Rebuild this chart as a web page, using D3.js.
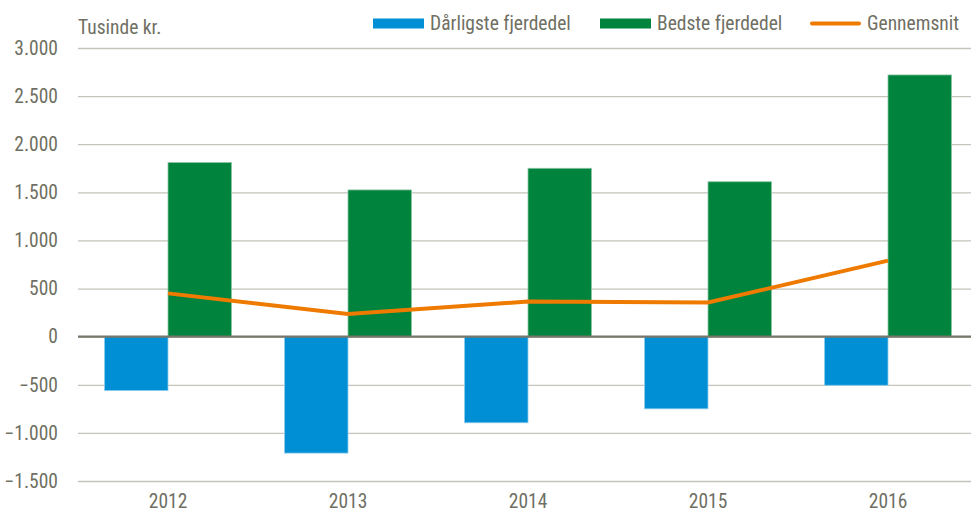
<!DOCTYPE html>
<html lang="da">
<head>
<meta charset="UTF-8">
<title>Fjerdedele</title>
<script src="https://cdn.jsdelivr.net/npm/d3@7"></script>
<style>
    body { margin: 0; background: #fff; }
    text { font-family: "Liberation Sans Narrow", "Arial Narrow", "Roboto Condensed", sans-serif; fill: #6f6f63; }
</style>
</head>
<body>
<div id="chart"></div>
<script>
    var years = ["2012", "2013", "2014", "2015", "2016"];
    var worst = [-560, -1210, -895, -750, -505];
    var best = [1810, 1525, 1750, 1610, 2720];
    var average = [450, 235, 365, 355, 790];
    var yTicks = [3000, 2500, 2000, 1500, 1000, 500, 0, -500, -1000, -1500];

    var width = 971, height = 514;
    var padding = {left: 78, right: -7, top: 48, bottom: 33};
    var fontSize = 19.5;

    var svg = d3.select("#chart").append("svg")
        .attr("width", width)
        .attr("height", height);

    var xScale = d3.scaleBand()
        .domain(years)
        .range([padding.left, width - padding.right])
        .paddingInner(0)
        .paddingOuter(0);

    var yScale = d3.scaleLinear()
        .domain([-1500, 3000])
        .range([height - padding.bottom, padding.top]);

    var fmt = function (d) {
        return d3.format(",")(d).replace(/,/g, ".");
    };

    // gitterlinjer og y-akse
    var yAxis = d3.axisLeft(yScale)
        .tickValues(yTicks)
        .tickSize(-(width - padding.left))
        .tickPadding(20)
        .tickFormat(fmt);

    var gy = svg.append("g")
        .attr("transform", "translate(" + padding.left + ",0)")
        .call(yAxis);
    gy.select(".domain").remove();
    gy.selectAll(".tick line")
        .attr("stroke", "#c4c4ba")
        .attr("stroke-width", 1.3);
    gy.selectAll(".tick text")
        .attr("font-size", fontSize)
        .attr("fill", "#6f6f63");

    var barW = 63.5;

    svg.append("g").selectAll("rect")
        .data(worst)
        .enter()
        .append("rect")
        .attr("x", function (d, i) { return xScale(years[i]) + xScale.bandwidth() / 2 - barW; })
        .attr("y", yScale(0))
        .attr("width", barW)
        .attr("height", function (d) { return yScale(d) - yScale(0); })
        .attr("fill", "#008fd5")
        .attr("stroke", "#8fcdec")
        .attr("stroke-width", 0.8);

    svg.append("g").selectAll("rect")
        .data(best)
        .enter()
        .append("rect")
        .attr("x", function (d, i) { return xScale(years[i]) + xScale.bandwidth() / 2; })
        .attr("y", function (d) { return yScale(d); })
        .attr("width", barW)
        .attr("height", function (d) { return yScale(0) - yScale(d); })
        .attr("fill", "#00843d")
        .attr("stroke", "#8cc6a4")
        .attr("stroke-width", 0.8);

    // nul-linje
    svg.append("line")
        .attr("x1", padding.left)
        .attr("x2", width)
        .attr("y1", yScale(0))
        .attr("y2", yScale(0))
        .attr("stroke", "#77766a")
        .attr("stroke-width", 2.2);

    var line = d3.line()
        .x(function (d, i) { return xScale(years[i]) + xScale.bandwidth() / 2; })
        .y(function (d) { return yScale(d); });

    svg.append("path")
        .datum(average)
        .attr("d", line)
        .attr("fill", "none")
        .attr("stroke", "#ef7a00")
        .attr("stroke-width", 4);

    // x-akse
    var xAxis = d3.axisBottom(xScale).tickSize(0).tickPadding(13);
    var gx = svg.append("g")
        .attr("transform", "translate(0," + (height - padding.bottom) + ")")
        .call(xAxis);
    gx.select(".domain").remove();
    gx.selectAll(".tick text")
        .attr("font-size", fontSize)
        .attr("fill", "#6f6f63");

    svg.append("text")
        .attr("x", padding.left)
        .attr("y", 34)
        .attr("font-size", fontSize)
        .text("Tusinde kr.");

    // forklaring
    var legend = [
        {name: "Dårligste fjerdedel", color: "#008fd5", type: "bar", x: 373},
        {name: "Bedste fjerdedel", color: "#00843d", type: "bar", x: 600},
        {name: "Gennemsnit", color: "#ef7a00", type: "line", x: 810}
    ];
    var lg = svg.append("g").selectAll("g")
        .data(legend)
        .enter()
        .append("g")
        .attr("transform", function (d) { return "translate(" + d.x + ",0)"; });
    lg.append("rect")
        .attr("x", 0)
        .attr("y", function (d) { return d.type === "bar" ? 18.5 : 21.5; })
        .attr("width", 51)
        .attr("height", function (d) { return d.type === "bar" ? 10 : 4; })
        .attr("rx", function (d) { return d.type === "bar" ? 0 : 2; })
        .attr("fill", function (d) { return d.color; });
    lg.append("text")
        .attr("x", 57)
        .attr("y", 30)
        .attr("font-size", fontSize)
        .text(function (d) { return d.name; });
</script>
</body>
</html>
